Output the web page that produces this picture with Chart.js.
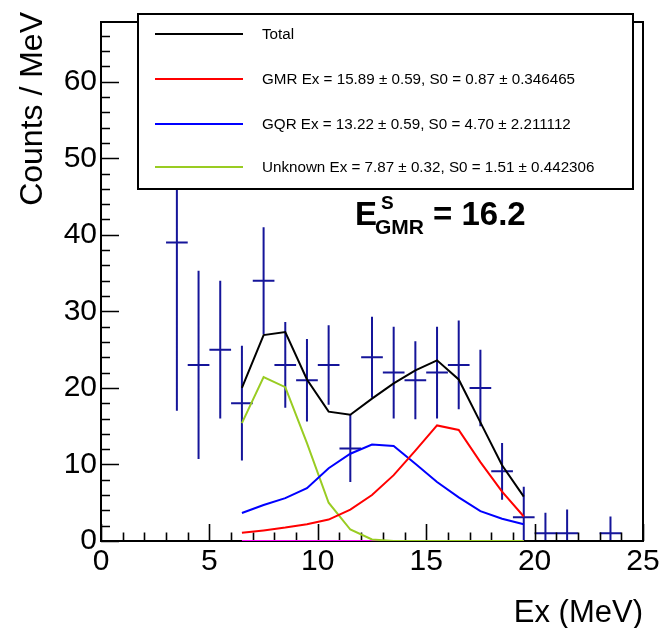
<!DOCTYPE html>
<html>
<head>
<meta charset="utf-8">
<script src="https://cdn.jsdelivr.net/npm/chart.js@4.4.1/dist/chart.umd.min.js"></script>
<style>
  body { margin: 0; background: #fff; }
  canvas { display: block; }
</style>
</head>
<body>
<canvas id="chart" width="663" height="628"></canvas>
<script>
// measured spectrum, 1 MeV bins
const binEx = [3.5, 4.5, 5.5, 6.5, 7.5, 8.5, 9.5, 10.5, 11.5, 12.5, 13.5, 14.5, 15.5, 16.5, 17.5, 18.5, 19.5, 20.5, 21.5, 23.5];
const counts = [39, 23, 25, 18, 34, 23, 21, 23, 12.1, 24, 22, 21, 22, 23, 20, 9.1, 3.1, 1, 1, 1];
const countErr = [22, 12.3, 9, 7.5, 7, 5.6, 5.4, 5.2, 4.4, 5.3, 6, 5.1, 6, 5.8, 5, 3.7, 4, 2.7, 3.1, 2.2];

// fit components evaluated at the bin centres
const fitEx = [6.5, 7.5, 8.5, 9.5, 10.5, 11.5, 12.5, 13.5, 14.5, 15.5, 16.5, 17.5, 18.5, 19.5];
const totalFit = [20.0, 26.9, 27.3, 21.1, 16.9, 16.5, 18.6, 20.6, 22.3, 23.6, 21.1, 15.5, 9.9, 5.8];
const gmrFit = [1.07, 1.38, 1.75, 2.2, 2.8, 4.1, 6.0, 8.6, 11.8, 15.1, 14.5, 10.3, 6.45, 3.2];
const gqrFit = [3.65, 4.7, 5.6, 6.9, 9.5, 11.4, 12.6, 12.4, 10.1, 7.7, 5.7, 3.9, 2.9, 2.2];
const unknownFit = [15.4, 21.4, 20.1, 12.8, 5.0, 1.5, 0.2, 0, 0, 0, 0, 0, 0, 0];
const bgFit = [0, 0, 0, 0, 0, 0, 0, 0, 0, 0, 0, 0, 0, 0];

const xTicks = [0, 5, 10, 15, 20, 25];
const yTicks = [0, 10, 20, 30, 40, 50, 60];

const FONT = "'Liberation Sans', Arial, Helvetica, sans-serif";

function curve(label, ys, color, inKey) {
  return {
    type: 'line',
    label: label,
    data: fitEx.map((x, i) => ({ x: x, y: ys[i] })),
    borderColor: color,
    borderWidth: 2,
    pointRadius: 0,
    tension: 0,
    fill: false,
    inKey: inKey
  };
}

// ROOT-like frame, inward ticks and error bars
const rootStyle = {
  id: 'rootStyle',
  beforeDatasetsDraw(chart) {
    const { ctx, chartArea: a, scales: { x, y } } = chart;

    // data points with error bars
    const pts = chart.data.datasets[0].data;
    ctx.save();
    ctx.beginPath();
    ctx.rect(a.left, a.top, a.right - a.left, a.bottom - a.top);
    ctx.clip();
    ctx.strokeStyle = '#15159a';
    ctx.lineWidth = 2;
    ctx.beginPath();
    pts.forEach(p => {
      const px = x.getPixelForValue(p.x);
      const py = y.getPixelForValue(p.y);
      ctx.moveTo(x.getPixelForValue(p.x - 0.5), py);
      ctx.lineTo(x.getPixelForValue(p.x + 0.5), py);
      ctx.moveTo(px, y.getPixelForValue(p.y - p.err));
      ctx.lineTo(px, y.getPixelForValue(p.y + p.err));
    });
    ctx.stroke();
    ctx.restore();

    // frame
    ctx.save();
    ctx.strokeStyle = '#000';
    ctx.lineWidth = 2;
    ctx.strokeRect(a.left, a.top, a.right - a.left, a.bottom - a.top);

    // tick marks, pointing into the frame
    ctx.lineWidth = 1.6;
    ctx.beginPath();
    for (let v = 0; v <= 67; v += 2) {
      const py = Math.round(y.getPixelForValue(v)) + 0.5;
      const len = v % 10 === 0 ? 18 : 9;
      ctx.moveTo(a.left, py);
      ctx.lineTo(a.left + len, py);
    }
    for (let v = 0; v <= 25; v += 1) {
      const px = Math.round(x.getPixelForValue(v)) + 0.5;
      const len = v % 5 === 0 ? 17 : 8.5;
      ctx.moveTo(px, a.bottom);
      ctx.lineTo(px, a.bottom - len);
    }
    ctx.stroke();
    ctx.restore();
  },
  afterDatasetsDraw(chart) {
    const { ctx, chartArea: a } = chart;
    ctx.save();

    // key box
    const bx = 138, by = 14, bw = 495, bh = 175;
    ctx.fillStyle = '#fff';
    ctx.fillRect(bx, by, bw, bh);
    ctx.strokeStyle = '#000';
    ctx.lineWidth = 2;
    ctx.strokeRect(bx, by, bw, bh);
    const rows = [34, 79, 124, 167];
    const keyed = chart.data.datasets.filter(d => d.inKey);
    ctx.font = '15.2px ' + FONT;
    ctx.textBaseline = 'middle';
    ctx.textAlign = 'left';
    keyed.forEach((d, i) => {
      ctx.strokeStyle = d.borderColor;
      ctx.lineWidth = 2;
      ctx.beginPath();
      ctx.moveTo(155, rows[i]);
      ctx.lineTo(243, rows[i]);
      ctx.stroke();
      ctx.fillStyle = '#000';
      ctx.fillText(d.label, 262, rows[i] + 1);
    });

    // E^S_GMR annotation
    ctx.fillStyle = '#000';
    ctx.textBaseline = 'alphabetic';
    ctx.font = 'bold 33px ' + FONT;
    ctx.fillText('E', 355, 225);
    ctx.font = 'bold 19px ' + FONT;
    ctx.fillText('S', 381, 209);
    ctx.font = 'bold 21px ' + FONT;
    ctx.fillText('GMR', 375, 234);
    ctx.font = 'bold 33px ' + FONT;
    ctx.fillText('= 16.2', 433, 225);

    // axis titles
    ctx.font = '31px ' + FONT;
    ctx.textAlign = 'right';
    ctx.fillText('Ex (MeV)', a.right, 622);
    ctx.translate(42, 12);
    ctx.rotate(-Math.PI / 2);
    ctx.font = '32px ' + FONT;
    ctx.fillText('Counts / MeV', 0, 0);
    ctx.restore();
  }
};

new Chart(document.getElementById('chart'), {
  type: 'scatter',
  data: {
    datasets: [
      {
        label: 'data',
        data: binEx.map((x, i) => ({ x: x, y: counts[i], err: countErr[i] })),
        pointRadius: 0,
        showLine: false
      },
      curve('Total', totalFit, '#000000', true),
      curve('GMR Ex = 15.89 ± 0.59, S0 = 0.87 ± 0.346465', gmrFit, '#ff0000', true),
      curve('GQR Ex = 13.22 ± 0.59, S0 = 4.70 ± 2.211112', gqrFit, '#0000ff', true),
      curve('Unknown Ex = 7.87 ± 0.32, S0 = 1.51 ± 0.442306', unknownFit, '#99cc22', true),
      curve('background', bgFit, '#ff00ff', false)
    ]
  },
  options: {
    responsive: false,
    animation: false,
    devicePixelRatio: 1,
    layout: { padding: { top: 14, right: 20, left: 0, bottom: 0 } },
    plugins: {
      legend: { display: false },
      tooltip: { enabled: false }
    },
    scales: {
      x: {
        type: 'linear',
        min: 0,
        max: 25,
        afterBuildTicks: s => { s.ticks = xTicks.map(v => ({ value: v })); },
        afterFit: s => { s.height = 87; },
        grid: { display: false, drawTicks: false },
        border: { display: false },
        ticks: { color: '#000', padding: 3, font: { family: FONT, size: 30 } }
      },
      y: {
        type: 'linear',
        min: 0,
        max: 67.8,
        afterBuildTicks: s => { s.ticks = yTicks.map(v => ({ value: v })); },
        afterFit: s => { s.width = 101; },
        grid: { display: false, drawTicks: false },
        border: { display: false },
        ticks: { color: '#000', padding: 4, font: { family: FONT, size: 30 } }
      }
    }
  },
  plugins: [rootStyle]
});
</script>
</body>
</html>
